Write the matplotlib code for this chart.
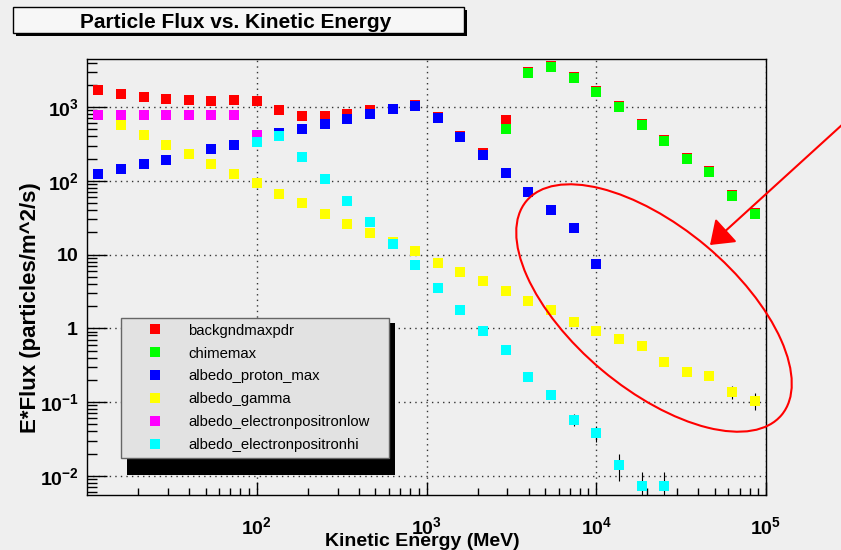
import matplotlib
matplotlib.use('Agg')
import matplotlib.pyplot as plt
import matplotlib.transforms as mtransforms
from matplotlib.lines import Line2D
from matplotlib.patches import Rectangle, Ellipse, FancyArrowPatch
from matplotlib.ticker import LogLocator, NullFormatter

plt.rcParams['font.family'] = 'Liberation Sans'
plt.rcParams['mathtext.fontset'] = 'custom'
plt.rcParams['mathtext.rm'] = 'Liberation Sans'
plt.rcParams['mathtext.bf'] = 'Liberation Sans:bold'

W, H = 841, 550
BG = '#efefef'

# energy bins (MeV)
energy = [11.66, 15.85, 21.54, 29.29, 39.81, 54.12, 73.56, 100.0, 135.9, 184.8,
          251.2, 341.5, 464.2, 631.0, 857.7, 1166, 1585, 2154, 2929, 3981,
          5412, 7356, 10000, 13594, 18478, 25119, 34145, 46416, 63096, 85770]

backgnd = [1680, 1480, 1365, 1295, 1245, 1218, 1245, 1195, 902, 748,
           755, 810, 910, 950, 1075, 725, 410, 235, 661, 3000,
           3620, 2570, 1650, 1020, 595, 358, 205, 136, 65, 37]

chime_e = energy[18:]
chime = [509, 2910, 3510, 2490, 1595, 990, 576, 347, 198, 130, 62, 35.5]

proton_e = energy[:23]
proton = [122, 144, 168, 194, 227, 271, 309, 370, 440, 499,
          583, 695, 795, 930, 1040, 700, 393, 224, 126, 69.5,
          40.2, 22.7, 7.4]

gamma = [780, 576, 423, 306, 227, 168, 124, 93, 67, 50,
         35.8, 26.2, 19.4, 14.8, 11.2, 7.7, 5.84, 4.31, 3.16, 2.32,
         1.75, 1.23, 0.93, 0.717, 0.576, 0.348, 0.254, 0.229, 0.138, 0.105]
gamma_err = [0] * 26 + [0.01, 0.012, 0.027, 0.026]

eplow_e = energy[:8]
eplow = [780, 780, 780, 780, 780, 780, 780, 414]

ephi_e = energy[7:26]
ephi = [330, 405, 209, 105, 53.7, 27.9, 13.9, 7.1, 3.5, 1.79,
        0.92, 0.505, 0.218, 0.123, 0.058, 0.0378, 0.0141, 0.0072, 0.0072]
ephi_err = [0] * 14 + [0.0105, 0.009, 0.0057, 0.004, 0.004]

labels = ['backgndmaxpdr', 'chimemax', 'albedo_proton_max', 'albedo_gamma',
          'albedo_electronpositronlow', 'albedo_electronpositronhi']
colors = ['#ff0000', '#00ff00', '#0000ff', '#ffff00', '#ff00ff', '#00ffff']

series = [(energy, backgnd, None), (chime_e, chime, None), (proton_e, proton, None),
          (energy, gamma, gamma_err), (eplow_e, eplow, None), (ephi_e, ephi, ephi_err)]

fig = plt.figure(figsize=(W / 100, H / 100), dpi=100, facecolor=BG)
ax = fig.add_axes([87 / W, 1 - 495 / H, 679 / W, 436 / H])
ax.set_facecolor(BG)
ax.set_xscale('log')
ax.set_yscale('log')
ax.set_xlim(10, 1e5)
ax.set_ylim(5.5e-3, 4.47e3)

for (xs, ys, errs), c in zip(series, colors):
    ax.errorbar(xs, ys, yerr=errs, fmt='s', color=c, ms=7, mew=0,
                ecolor='black', elinewidth=0.8, capsize=2, capthick=0.8, zorder=3)

# axes, ticks, grid
ax.set_xticks([1e2, 1e3, 1e4, 1e5])
ax.set_xticklabels([r'$\mathbf{10^{2}}$', r'$\mathbf{10^{3}}$', r'$\mathbf{10^{4}}$', r'$\mathbf{10^{5}}$'])
ax.set_yticks([1e-2, 1e-1, 1, 10, 1e2, 1e3])
ax.set_yticklabels([r'$\mathbf{10^{-2}}$', r'$\mathbf{10^{-1}}$', r'$\mathbf{1}$', r'$\mathbf{10}$',
                    r'$\mathbf{10^{2}}$', r'$\mathbf{10^{3}}$'])
ax.xaxis.set_minor_locator(LogLocator(base=10, subs=range(2, 10), numticks=20))
ax.yaxis.set_minor_locator(LogLocator(base=10, subs=range(2, 10), numticks=20))
ax.xaxis.set_minor_formatter(NullFormatter())
ax.yaxis.set_minor_formatter(NullFormatter())
ax.tick_params(axis='both', which='both', direction='in', color='black', width=1,
               top=False, right=False, labelsize=14)
ax.tick_params(axis='x', which='major', length=9.4, pad=15)
ax.tick_params(axis='x', which='minor', length=4.7)
ax.tick_params(axis='y', which='major', length=14.4, pad=6)
ax.tick_params(axis='y', which='minor', length=7.2)
ax.grid(True, which='major', color='#333333', linestyle=(0, (1, 3)), linewidth=1)
for s in ax.spines.values():
    s.set_color('black')
    s.set_linewidth(1)

ax.set_xlabel('Kinetic Energy (MeV)', fontsize=14, fontweight='bold')
ax.xaxis.set_label_coords(0.494, -0.107)
ax.xaxis.label.set_verticalalignment('center')
ax.set_ylabel('E*Flux (particles/m^2/s)', fontsize=16, fontweight='bold')
ax.yaxis.set_label_coords(-0.083, 0.43)
ax.yaxis.label.set_verticalalignment('center')

# legend with a hard black shadow
px = mtransforms.Affine2D().scale(1 / W, -1 / H).translate(0, 1) + fig.transFigure
handles = [Line2D([], [], ls='none', marker='s', ms=7, mew=0, color=c) for c in colors]
leg = ax.legend(handles, labels, loc='upper left',
                bbox_to_anchor=(121 / W, 1 - 470 / H, 268 / W, 152 / H),
                bbox_transform=fig.transFigure, mode='expand', borderaxespad=0,
                borderpad=0.38, handlelength=3.85, handletextpad=0.3, labelspacing=0.6,
                fontsize=10.7, fancybox=False, framealpha=1, facecolor='#e2e2e2',
                edgecolor='#666666')
leg.get_frame().set_linewidth(1)
leg.set_zorder(6)
ax.add_patch(Rectangle((127, 323), 268, 152, transform=px, facecolor='black',
                       edgecolor='none', zorder=5, clip_on=False))

# title box
fig.add_artist(Rectangle((16, 10), 451, 26, transform=px, facecolor='black', edgecolor='none'))
fig.add_artist(Rectangle((13, 7), 451, 26, transform=px, facecolor='#f7f7f7',
                         edgecolor='black', linewidth=1))
fig.text(236, 22, 'Particle Flux vs. Kinetic Energy', transform=px, fontsize=15,
         fontweight='bold', ha='center', va='center')

# red annotation
fig.add_artist(Ellipse((654, 308), 333, 162, angle=40, transform=px, fill=False,
                       edgecolor='red', linewidth=1.5))
fig.add_artist(FancyArrowPatch((860, 108.5), (710, 245), transform=px,
                               arrowstyle='-|>,head_length=0.69,head_width=0.5',
                               mutation_scale=20, color='red', linewidth=1.5,
                               shrinkA=0, shrinkB=0))

fig.savefig('out.png', dpi=100, facecolor=BG)
